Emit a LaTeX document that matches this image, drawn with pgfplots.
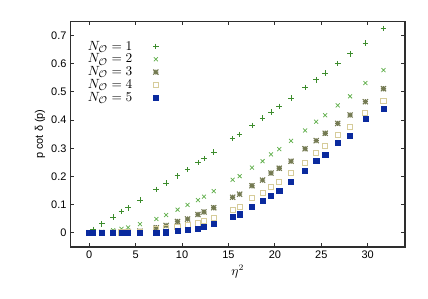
\documentclass[border=0pt]{standalone}
\usepackage{fontspec}
\setmainfont{Liberation Sans}
\usepackage{pgfplots}
\pgfplotsset{compat=1.18}
\usepackage{pgfplotstable}
\definecolor{cA}{HTML}{3C8C2C}
\definecolor{cB}{HTML}{5FAE4A}
\definecolor{cC}{HTML}{747A52}
\definecolor{cD}{HTML}{D6CC9A}
\definecolor{cE}{HTML}{0A2A9E}
\definecolor{frame}{HTML}{2E2E2E}
\pgfdeclareplotmark{pluscross}{%
  \pgfpathmoveto{\pgfqpoint{-\pgfplotmarksize}{0pt}}\pgfpathlineto{\pgfqpoint{\pgfplotmarksize}{0pt}}%
  \pgfpathmoveto{\pgfqpoint{0pt}{-\pgfplotmarksize}}\pgfpathlineto{\pgfqpoint{0pt}{\pgfplotmarksize}}%
  \pgfpathmoveto{\pgfqpoint{-\pgfplotmarksize}{-\pgfplotmarksize}}\pgfpathlineto{\pgfqpoint{\pgfplotmarksize}{\pgfplotmarksize}}%
  \pgfpathmoveto{\pgfqpoint{-\pgfplotmarksize}{\pgfplotmarksize}}\pgfpathlineto{\pgfqpoint{\pgfplotmarksize}{-\pgfplotmarksize}}%
  \pgfusepathqstroke}
\pgfplotstableread{
x y1 y2 y3 y4 y5
0 0 0 0 0 0
0.4 0.012 0.001 0 0 0
1.35 0.032 0.003 0.001 0 0
2.57 0.056 0.009 0.002 0 0
3.47 0.076 0.014 0.003 0.001 0
4.19 0.089 0.019 0.004 0.001 0
5.46 0.116 0.031 0.006 0.002 0
7.22 0.154 0.049 0.018 0.012 0.001
8.28 0.176 0.063 0.026 0.016 0.002
9.51 0.202 0.082 0.040 0.021 0.006
10.59 0.224 0.099 0.049 0.026 0.011
11.71 0.249 0.116 0.065 0.033 0.016
12.36 0.263 0.128 0.074 0.041 0.022
13.41 0.287 0.148 0.089 0.052 0.032
15.45 0.334 0.188 0.126 0.082 0.058
16.2 0.348 0.201 0.137 0.093 0.066
17.53 0.381 0.231 0.167 0.122 0.092
18.67 0.407 0.254 0.187 0.142 0.113
19.58 0.428 0.278 0.212 0.163 0.133
20.47 0.448 0.297 0.229 0.181 0.150
21.74 0.478 0.326 0.254 0.212 0.181
23.25 0.516 0.363 0.298 0.249 0.219
24.45 0.543 0.394 0.327 0.283 0.255
25.42 0.566 0.417 0.353 0.308 0.278
26.77 0.600 0.452 0.388 0.347 0.318
28.1 0.635 0.484 0.418 0.374 0.344
29.75 0.673 0.531 0.465 0.425 0.405
31.7 0.725 0.577 0.511 0.468 0.439
}\datatable
\begin{document}
\begin{tikzpicture}
\begin{axis}[
  at={(0,0)}, anchor=south west,
  scale only axis, width=274pt, height=185pt,
  xmin=-2, xmax=34, ymin=-0.05, ymax=0.75,
  xtick={0,5,...,30}, ytick={0,0.1,...,0.7},
  yticklabel style={/pgf/number format/fixed,/pgf/number format/precision=1},
  /pgf/number format/assume math mode=true,
  tick align=inside, major tick length=3pt,
  tick style={frame, line width=0.8pt},
  axis line style={frame, line width=1.2pt},
  tick label style={font=\fontsize{9}{11}\selectfont},
  xlabel={$\eta^2$}, ylabel={p cot δ (p)},
  xlabel style={font=\fontsize{10.5}{12}\selectfont, yshift=2pt},
  ylabel style={font=\fontsize{9}{11}\selectfont, yshift=-2pt},
  legend plot pos=right,
  legend cell align=left,
  legend style={draw=none, fill=none, at={(0.04,0.93)}, anchor=north west,
    font=\fontsize{11}{12}\selectfont, row sep=-2.5pt, column sep=15pt, inner sep=1pt},
  clip=false,
]
\addplot[only marks, mark=+, mark size=2.3pt, cA, line width=0.6pt] table[x=x,y=y1]{\datatable};
\addlegendentry{$N_{\mathcal{O}} = 1$}
\addplot[only marks, mark=x, mark size=2.3pt, cB, line width=0.6pt] table[x=x,y=y2]{\datatable};
\addlegendentry{$N_{\mathcal{O}} = 2$}
\addplot[only marks, mark=pluscross, mark size=2.1pt, cC, line width=0.9pt] table[x=x,y=y3]{\datatable};
\addlegendentry{$N_{\mathcal{O}} = 3$}
\addplot[only marks, mark=square, mark size=2.1pt, cD, line width=0.8pt] table[x=x,y=y4]{\datatable};
\addlegendentry{$N_{\mathcal{O}} = 4$}
\addplot[only marks, mark=square*, mark size=2.1pt, cE, mark options={fill=cE, draw=cE}] table[x=x,y=y5]{\datatable};
\addlegendentry{$N_{\mathcal{O}} = 5$}
\end{axis}
\useasboundingbox (-58pt,-42.6pt) rectangle (293pt,202.5pt);
\end{tikzpicture}
\end{document}
